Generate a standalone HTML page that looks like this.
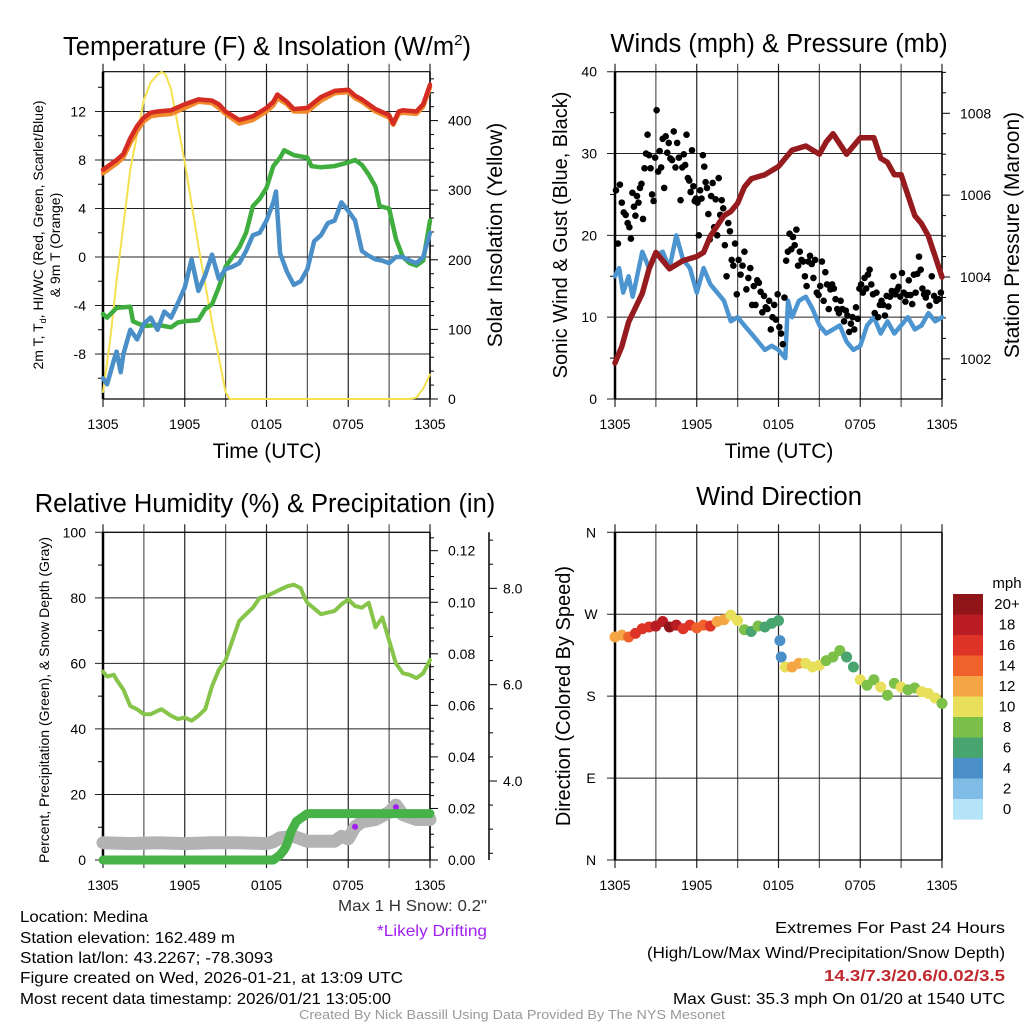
<!DOCTYPE html>
<html><head><meta charset="utf-8"><style>
html,body{margin:0;padding:0;background:#fff;}
svg{display:block;font-family:"Liberation Sans",sans-serif;}
</style></head><body>
<svg id="s" width="1024" height="1024" viewBox="0 0 1024 1024" xmlns="http://www.w3.org/2000/svg">
<g id="g"></g>
<g id="txt" fill="#000">
<text x="267" y="55" font-size="25.5" text-anchor="middle">Temperature (F) &amp; Insolation (W/m<tspan font-size="15" dy="-10">2</tspan><tspan dy="10">)</tspan></text>
<text x="779" y="52" font-size="25.5" text-anchor="middle">Winds (mph) &amp; Pressure (mb)</text>
<text x="265" y="512" font-size="25.5" text-anchor="middle">Relative Humidity (%) &amp; Precipitation (in)</text>
<text x="779" y="505" font-size="25.5" text-anchor="middle">Wind Direction</text>
<text x="267" y="458" font-size="21" text-anchor="middle">Time (UTC)</text>
<text x="779" y="458" font-size="21" text-anchor="middle">Time (UTC)</text>
<text transform="translate(43,235) rotate(-90)" font-size="14" text-anchor="middle">2m T, T<tspan font-size="9" dy="3">d</tspan><tspan dy="-3">, HI/WC (Red, Green, Scarlet/Blue)</tspan></text>
<text transform="translate(60,245) rotate(-90)" font-size="14" text-anchor="middle">&amp; 9m T (Orange)</text>
<text transform="translate(502,235) rotate(-90)" font-size="21" text-anchor="middle">Solar Insolation (Yellow)</text>
<text transform="translate(567,235) rotate(-90)" font-size="20" text-anchor="middle">Sonic Wind &amp; Gust (Blue, Black)</text>
<text transform="translate(1019,235) rotate(-90)" font-size="21" text-anchor="middle">Station Pressure (Maroon)</text>
<text transform="translate(49,700) rotate(-90)" font-size="14" text-anchor="middle">Percent, Precipitation (Green), &amp; Snow Depth (Gray)</text>
<text transform="translate(570,696) rotate(-90)" font-size="20" text-anchor="middle">Direction (Colored By Speed)</text>
<text x="1007" y="588" font-size="15" text-anchor="middle">mph</text>
<text x="487" y="911" font-size="16" fill="#333" text-anchor="end" textLength="149" lengthAdjust="spacingAndGlyphs">Max 1 H Snow: 0.2"</text>
<text x="487" y="936" font-size="16" fill="#a020f0" text-anchor="end" textLength="110" lengthAdjust="spacingAndGlyphs">*Likely Drifting</text>
<g font-size="16">
<text x="20" y="922" textLength="128" lengthAdjust="spacingAndGlyphs">Location: Medina</text>
<text x="20" y="943" textLength="215" lengthAdjust="spacingAndGlyphs">Station elevation: 162.489 m</text>
<text x="20" y="963" textLength="253" lengthAdjust="spacingAndGlyphs">Station lat/lon: 43.2267; -78.3093</text>
<text x="20" y="983" textLength="383" lengthAdjust="spacingAndGlyphs">Figure created on Wed, 2026-01-21, at 13:09 UTC</text>
<text x="20" y="1004" textLength="371" lengthAdjust="spacingAndGlyphs">Most recent data timestamp: 2026/01/21 13:05:00</text>
</g>
<g font-size="16" text-anchor="end">
<text x="1005" y="933" textLength="230" lengthAdjust="spacingAndGlyphs">Extremes For Past 24 Hours</text>
<text x="1005" y="958" textLength="358" lengthAdjust="spacingAndGlyphs">(High/Low/Max Wind/Precipitation/Snow Depth)</text>
<text x="1005" y="981" fill="#c0282d" font-weight="bold" textLength="181" lengthAdjust="spacingAndGlyphs">14.3/7.3/20.6/0.02/3.5</text>
<text x="1005" y="1004" textLength="332" lengthAdjust="spacingAndGlyphs">Max Gust: 35.3 mph On 01/20 at 1540 UTC</text>
</g>
<text x="512" y="1019" font-size="13" fill="#999" text-anchor="middle" textLength="426" lengthAdjust="spacingAndGlyphs">Created By Nick Bassill Using Data Provided By The NYS Mesonet</text>
</g>
</svg>
<script>
// ---------- data ----------
const tempHours=[0,1,1.5,2,2.5,3,3.5,4,5,6,7,8,8.5,9,10,11,12,12.5,12.8,13.5,14,15,16,17,18,18.5,19,20,21,21.3,21.7,22,23,23.5,24];
const airTemp=[7.2,8,8.5,9.8,10.8,11.5,11.9,12.0,12.1,12.6,13.0,12.9,12.6,12.0,11.3,11.6,12.3,12.8,13.4,12.8,12.2,12.3,13.2,13.7,13.8,13.3,13.0,12.2,11.7,11.0,12.0,12.1,12.0,12.6,14.2];
const temp9m=[6.9,7.7,8.2,9.4,10.4,11.2,11.6,11.7,11.8,12.3,12.8,12.7,12.3,11.8,11.0,11.3,12.0,12.5,13.1,12.6,12.0,12.0,12.9,13.5,13.6,13.1,12.8,12.0,11.5,10.9,11.8,11.9,11.8,12.4,14.0];
const dewHours=[0,0.3,1,2,2.2,3,4,5,5.5,6,7,7.5,8,8.5,9,9.5,10,10.5,11,11.5,12,12.5,13,13.3,14,15,15.3,16,17,18,18.5,19,19.5,20,20.3,21,21.5,22,22.5,23,23.5,24];
const dewPoint=[-4.7,-5.0,-4.2,-4.1,-5.3,-5.7,-5.6,-5.8,-5.4,-5.3,-5.2,-4.3,-3.9,-2.5,-0.8,0,0.8,2,4.2,4.8,5.7,7.5,8.2,8.8,8.4,8.2,7.5,7.4,7.5,7.8,8.0,7.6,6.8,5.8,4.2,4.0,1.5,0.0,-0.5,-0.7,-0.3,3.0];
const chillHours=[0,0.3,0.8,1,1.3,1.5,2,2.5,3,3.5,4,4.5,5,5.5,6,6.5,7,7.5,8,8.5,9,9.5,10,10.5,11,11.5,12,12.5,12.7,13,13.5,14,14.5,15,15.5,16,16.5,17,17.5,18,18.5,19,19.5,20,20.5,21,21.5,22,22.5,23,23.5,24];
const windChill=[-10,-10.5,-8.5,-7.8,-9.5,-8,-6,-6.8,-5.5,-5,-6,-4.5,-5,-3.8,-2.5,-0.2,-2.8,-1.5,0.2,-1.8,-1,-0.8,-0.5,0.5,1.8,2.0,3,4.5,5.4,0.3,-1.2,-2.3,-2.0,-1,1.3,1.8,2.8,3.0,4.5,3.8,3.0,0.5,0.1,-0.2,-0.3,-0.5,0,0,-0.3,-0.5,0,2.0];
const solarHours=[0,0.5,1,2,3,3.5,4,4.3,4.6,5,6,7,8,8.5,9,9.3,22.5,23,23.5,24];
const solar=[10,80,170,330,430,455,466,470,466,445,340,220,110,60,10,0,0,2,15,35];
const presHours=[0,0.5,1,2,2.5,3,3.5,4,5,6,6.5,7,8,8.5,9,9.5,10,11,12,12.5,13,14,15,15.5,16,17,18,19,19.5,20,20.5,21,21.5,22,22.5,23,23.5,24];
const pressure=[1001.9,1002.3,1002.9,1003.6,1004.2,1004.6,1004.4,1004.2,1004.4,1004.5,1004.6,1005.0,1005.5,1005.6,1005.8,1006.2,1006.4,1006.5,1006.7,1006.9,1007.1,1007.2,1007.0,1007.3,1007.5,1007.0,1007.4,1007.4,1006.9,1006.8,1006.5,1006.5,1006.0,1005.5,1005.3,1005.0,1004.5,1004.0];
const windHours=[0,0.3,0.6,1,1.3,1.5,2,2.5,3,3.5,4,4.5,5,5.5,6,6.5,7,7.5,8,8.5,9,9.5,10,10.5,11,11.5,12,12.5,12.7,13,13.5,14,14.5,15,15.5,16,16.5,17,17.5,18,18.5,19,19.5,20,20.5,21,21.5,22,22.5,23,23.5,24];
const windSpeed=[15,16,13,15,12.5,14,18,16,17.5,18,16,20,17,16,13,16,14,13,12,9.5,10,9,8,7,6,6.5,6,5,12,10,12,12.5,11,9,8,8.5,9,7,6,6.5,9,10,8,9.5,8,9,10,8.5,9,10.5,9.5,10];
// gusts grouped by hour; values spread evenly within each hour
const gustByHour=[
[25.5,19,26.2,24,22.8,22.5,21.5],[21,19.6,25.2,23.5,22.4,24.8,24,25.8,26.3],[22,28.2,30,32.3,29.8,28.2,25,24.2,29.5],
[35.3,27.8,30.3,28.3,31.8,25.8,32.1,30.1,31.3],[29.4,29.2,32.7,28.3,31.3,29.5,24.3,28.3],[29.9,28.6,32.3,27,26.7,25.3,30.4,26,24.2,24.5],
[24,20,25.5,24.5,29.8,28.4,26.5,25.8,22.6,19.5],[24.8,26.4,21,24.4,20,27,22.5,24.3,23.3],[18.8,15,21.5,20.5,17,16.3,19,12.8],
[17,15.2,16.3,18,13.4,14.8,16],[11.5,13.8,11.5,14.5,14.2,13.1,10.6,12.6],[11.2,11,12,8.5,10,11.5,9.7,12.8],
[8.8,8,6.7,12.4,16.9,18,20.2,18.3],[19.8,18.8,20.7,16.3,18,17,16.8,15],[13.8,16.8,17.5,16.5,14.8,17,13,12.7],
[13.8,16.8,12,15.5,14,11,13.4,14],[13.5,12.2,11,10.5,12,11,9.5,10.8],[10.2,8.2,9.2,10,8.5,11.2,9.8,13.5],
[14,13,14.8,13.5,15.2,15.8,14,12.8],[10.5,13,10,11.5,12,11.5,10.2,12.6],[11.3,12.5,13.2,15,12.8,13.3,13.7,12.5],
[15.4,13,11.9,12.7,14.5,12.7,11.6,15.2],[13,15.3,17.4,15.8,13.5,12.8,12.4,13],[11.4,15,12.6,12,12.2,13]];
const rhHours=[0,0.3,0.8,1,1.5,2,2.5,3,3.5,4,4.3,5,5.5,6,6.5,7,7.5,8,8.5,9,9.5,10,10.5,11,11.5,12,12.5,13,13.5,14,14.5,14.8,15,16,16.5,17,17.5,18,18.5,19,19.5,20,20.5,21,21.5,22,22.5,23,23.5,24];
const relHum=[57.5,56,56.5,55,52,47,46,44.5,44.5,45.5,46,44,43,43.5,42.5,44,46,53,58,61,67,73,75,77,80,80.5,81.5,82.5,83.5,84,83,80,78.5,75,75.5,76,78,79.5,77.5,77,78.5,71,74,67,60,57,56.5,55.5,57,61];
const precipHours=[0,12.5,13,13.3,13.5,13.8,14.2,15,24];
const precip=[0,0,0.002,0.004,0.006,0.011,0.015,0.018,0.018];
const snowHours=[0,2,4,6,8,10,12,12.5,13,14,15,16,17,17.5,18,18.5,19,20,21,21.5,22,23,24];
const snowDepth=[2.72,2.7,2.72,2.7,2.72,2.72,2.7,2.74,2.82,2.85,2.75,2.75,2.75,2.85,2.8,3.05,3.15,3.2,3.35,3.5,3.3,3.2,3.2];
const dirHours=[0,0.5,1,1.5,2,2.5,3,3.5,4,4.5,5,5.5,6,6.5,7,7.5,8,8.5,9,9.5,10,10.5,11,11.5,12,12.1,12.2,12.5,13,13.5,14,14.5,15,15.5,16,16.5,17,17.5,18,18.5,19,19.5,20,20.5,21,21.5,22,22.5,23,23.5,24];
const dirDeg=[245,247,245,249,254,256,257,262,256,258,254,258,255,258,257,262,264,269,263,253,251,257,256,260,263,241,223,212,212,216,216,212,214,219,223,230,223,212,198,192,198,190,181,194,190,187,189,185,183,178,172];
const dirSpeed=[13,13,15,16,17,16,18,19,20,19,17,16,15,14,16,13,13,10,10,8,7,8,7,6,6,4,5,11,12,12,11,11,10,9,9,8,7,7,10,9,8,10,8,9,10,8,9,10,11,10,8];
const legendLabels=["20+","18","16","14","12","10","8","6","4","2","0"];
const legendColors=["#8f1519","#b91c23","#dd3427","#f0622b","#f6a545","#e8e05a","#7cc04a","#49a570","#4a8fc7","#7fbde6","#b5e3f7"];
const xTickLabels=["1305","","1905","","0105","","0705","","1305"];

// ---------- scales ----------
const NS="http://www.w3.org/2000/svg";
const g=document.getElementById('g');
const PW=327;
const xL=h=>103+h*PW/24, xR=h=>615+h*PW/24;
const yT=v=>257-v*12.125, ySol=w=>399-w*0.696;
const yW=m=>399-m*8.1825, yP=p=>277-(p-1004)*40.93;
const yRH=r=>860-r*3.277, yPr=p=>860-p*2577.5, ySn=s=>781-(s-4)*48.17;
const yD=d=>860-d*0.9103;
function el(t,a,parent){const e=document.createElementNS(NS,t);for(const k in a)e.setAttribute(k,a[k]);(parent||g).appendChild(e);return e;}
function line(x1,y1,x2,y2,c,w){return el('line',{x1,y1,x2,y2,stroke:c,'stroke-width':w});}
function txt(x,y,s,anchor,size){const t=el('text',{x,y,'font-size':size||14,'text-anchor':anchor||'start'});t.textContent=s;return t;}
function path(hs,vs,xf,yf,c,w,name){let d='';for(let i=0;i<hs.length;i++)d+=(i?'L':'M')+xf(hs[i]).toFixed(1)+','+yf(vs[i]).toFixed(1);
 const p=el('path',{d,fill:'none',stroke:c,'stroke-width':w,'stroke-linejoin':'round','stroke-linecap':'round'});
 
 
 return p;}

function frame(x0,yTop,yBot,hGrid,yf,xLabY){
 for(let i=0;i<=8;i++){const x=x0+i*PW/8;line(x,yTop-8,x,yBot+8,i%2?'#555':'#222',1.2);
  if(xTickLabels[i]){const t=txt(x,xLabY,xTickLabels[i],'middle',14);
   
   }}
 hGrid.forEach(v=>line(x0-8,yf(v),x0+PW,yf(v),'#222',1));
 line(x0,yTop,x0+PW,yTop,'#000',1.2);line(x0,yBot,x0+PW,yBot,'#000',1.2);
 line(x0,yTop,x0,yBot,'#000',2.5);line(x0+PW,yTop,x0+PW,yBot,'#000',1.5);
}
// ===== Panel 1 =====
frame(103,71.7,399,[-8,-4,0,4,8,12],yT,429);
for(let v=-10;v<=14;v+=2) if(v%4) line(98,yT(v),103,yT(v),'#000',1);
[-8,-4,0,4,8,12].forEach(v=>{const t=txt(86,yT(v)+5,String(v),'end');
 
 });
for(let w=0;w<=460;w+=20) line(430,ySol(w),w%100?434:438,ySol(w),'#000',1);
[0,100,200,300,400].forEach(w=>{const t=txt(448,ySol(w)+5,String(w));
 
 });
path(solarHours,solar,xL,ySol,'#f5e050',2,'solar-line');
path(dewHours,dewPoint,xL,yT,'#3fae3f',4.5,'dewpoint-line');
path(chillHours,windChill,xL,yT,'#4a8fc7',4.5,'windchill-line');
path(tempHours,temp9m,xL,yT,'#f08a2b',4.5,'temp-9m-line');
path(tempHours,airTemp,xL,yT,'#d42b22',4.5,'temp-2m-line');

// ===== Panel 2 =====
frame(615,71.7,399,[0,10,20,30,40],yW,429);
for(let m=5;m<40;m+=10) line(610,yW(m),615,yW(m),'#000',1);
[0,10,20,30,40].forEach(m=>{const t=txt(597,yW(m)+5,String(m),'end');
 
 });
for(let p=1001;p<=1009;p+=0.5){const y=yP(p);if(y<71||y>399)continue;line(942,y,p%2===0?950:946,y,'#000',1);}
[1002,1004,1006,1008].forEach(p=>{const t=txt(960,yP(p)+5,String(p));
 
 });
path(windHours,windSpeed,xR,yW,'#4d95d0',4.5,'wind-speed-line');
gustByHour.forEach((arr,h)=>arr.forEach((v,k)=>{const c=el('circle',{cx:xR(h+(k+0.5)/arr.length),cy:yW(v),r:3.3,fill:'#000'});
 
 }));
path(presHours,pressure,xR,yP,'#951b1e',5.5,'pressure-line');

// ===== Panel 3 =====
frame(103,532.3,860,[0,20,40,60,80,100],yRH,890);
for(let r=10;r<100;r+=20) line(98,yRH(r),103,yRH(r),'#000',1);
[0,20,40,60,80,100].forEach(r=>{const t=txt(86,yRH(r)+5,String(r),'end');
 
 });
for(let i=0;i<=25;i++){const p=i*0.005,y=yPr(p);if(y<532)continue;line(430,y,i%4?434:438,y,'#000',1);}
[0,0.02,0.04,0.06,0.08,0.10,0.12].forEach(p=>{const t=txt(448,yPr(p)+5,p.toFixed(2));
 
 });
line(489,532.3,489,860,'#000',1.5);
for(let s=2.5;s<=9;s+=0.5){const y=ySn(s);if(y<532||y>860)continue;line(489,y,s%2===0?497:493,y,'#000',1);}
[4,6,8].forEach(s=>{const t=txt(503,ySn(s)+5,s.toFixed(1));
 
 });
path(snowHours,snowDepth,xL,ySn,'#b3b3b3',13,'snow-depth-line');
el('circle',{cx:xL(18.5),cy:ySn(3.05),r:3,fill:'#a020f0'});
el('circle',{cx:xL(21.5),cy:ySn(3.5)+2,r:3,fill:'#a020f0'});
path(precipHours,precip,xL,yPr,'#47b247',9,'precip-line');
path(rhHours,relHum,xL,yRH,'#86c44a',4,'rh-line');

// ===== Panel 4 =====
frame(615,532.3,860,[0,90,180,270,360],yD,890);
const dl=['N','E','S','W','N'];
[0,90,180,270,360].forEach((d,i)=>{const t=txt(591,yD(d)+5,dl[i],'middle',14);
 
 });
function spdColor(s){let i=10-Math.min(10,Math.floor(s/2));return legendColors[i];}
dirHours.forEach((h,i)=>{const c=el('circle',{cx:xR(h),cy:yD(dirDeg[i]),r:5.5,fill:spdColor(dirSpeed[i])});
 
 });
legendColors.forEach((c,i)=>{const r=el('rect',{x:953,y:594+i*20.5,width:30,height:20.6,fill:c});
 
 
 const t=txt(1007,594+i*20.5+15,legendLabels[i],'middle',15);
 
 });
</script>
</body></html>
